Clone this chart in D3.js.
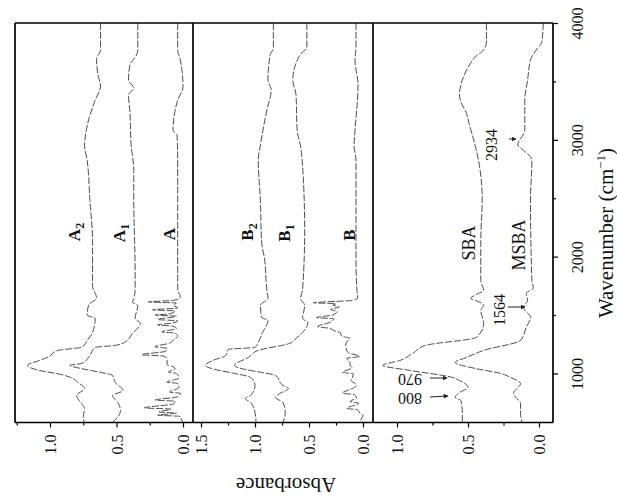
<!DOCTYPE html>
<html lang="en">
<head>
<meta charset="UTF-8">
<title>IR spectra</title>
<script src="https://d3js.org/d3.v7.min.js"></script>
<style>
    *{margin:0;padding:0}
    body{background:#fff}
    svg text{font-family:"Liberation Serif","DejaVu Serif",serif;fill:#111}
    .spec{fill:none;stroke:#444;stroke-width:0.95;stroke-dasharray:7 1.8}
    .frame{stroke:#000;stroke-width:1.7}
    .axis path{display:none}
    .axis line{stroke:#000;stroke-width:1.2}
    .ann{stroke:#222;stroke-width:1}
</style>
</head>
<body>
<div id="chart"></div>
<script>
    // spectra: [wavenumber, absorbance]
    var specA2 = [[4000,0.62],[3770,0.62],[3690,0.65],[3560,0.64],[3460,0.62],[3340,0.66],[3170,0.71],[2950,0.74],[2820,0.72],
        [2480,0.70],[2140,0.68],[1750,0.68],[1645,0.65],[1585,0.71],[1500,0.72],[1470,0.66],[1350,0.68],[1285,0.72],
        [1225,0.76],[1197,0.94],[1137,1.02],[1111,1.08],[1069,1.17],[1026,1.08],[992,0.92],[957,0.83],[923,0.79],
        [871,0.74],[811,0.80],[751,0.77],[700,0.74],[623,0.75],[580,0.74]];
    var specA1 = [[4000,0.34],[3770,0.34],[3726,0.35],[3640,0.40],[3511,0.41],[3443,0.37],[3383,0.41],[3254,0.40],
        [2954,0.39],[2740,0.37],[2483,0.37],[1883,0.36],[1711,0.36],[1643,0.37],[1609,0.38],[1583,0.34],[1470,0.36],
        [1429,0.32],[1343,0.38],[1266,0.44],[1240,0.51],[1223,0.66],[1137,0.71],[1086,0.76],[1069,0.85],[1043,0.77],
        [1009,0.62],[983,0.53],[923,0.51],[854,0.45],[811,0.53],[751,0.49],[683,0.47],[614,0.50],[580,0.53]];
    var specA = [[4000,0.04],[3770,0.04],[3683,0.02],[3451,0.0],[3340,0.04],[3083,0.075],[3040,0.045],[2826,0.04],
        [1711,0.04],[1660,0.02],[1640,0.03],[1625,0.08],[1612,0.26],[1603,0.05],[1585,0.07],[1560,0.04],[1545,0.23],
        [1535,0.06],[1510,0.10],[1500,0.21],[1490,0.05],[1462,0.19],[1450,0.04],[1430,0.09],[1415,0.19],[1405,0.08],
        [1385,0.05],[1355,0.16],[1345,0.06],[1320,0.04],[1290,0.07],[1260,0.10],[1228,0.21],[1215,0.12],[1190,0.13],
        [1160,0.31],[1148,0.14],[1120,0.12],[1075,0.12],[1060,0.08],[1040,0.06],[1012,0.11],[1000,0.05],[960,0.03],
        [925,0.12],[915,0.04],[880,0.03],[840,0.10],[830,0.02],[800,0.04],[772,0.21],[762,0.06],[740,0.07],[705,0.29],
        [695,0.09],[670,0.18],[660,0.05],[643,0.19],[632,0.02],[600,0.01],[580,0.0]];

    var specB2 = [[4000,0.83],[3786,0.83],[3726,0.86],[3511,0.88],[3426,0.85],[3254,0.89],[2954,0.95],[2826,0.97],
        [2483,0.95],[2140,0.94],[1969,0.91],[1711,0.89],[1643,0.88],[1583,0.95],[1480,0.94],[1454,0.88],[1350,0.93],
        [1266,0.97],[1223,1.00],[1206,1.25],[1154,1.27],[1111,1.39],[1069,1.46],[1034,1.37],[1000,1.19],[966,1.04],
        [897,1.00],[811,1.04],[786,1.09],[751,1.04],[666,1.00],[580,0.99]];
    var specB1 = [[4000,0.52],[3786,0.52],[3751,0.56],[3700,0.60],[3511,0.65],[3383,0.62],[3083,0.61],[2954,0.58],
        [2783,0.56],[2226,0.54],[1711,0.56],[1643,0.58],[1583,0.54],[1470,0.56],[1437,0.51],[1350,0.56],[1300,0.62],
        [1257,0.68],[1197,0.97],[1137,1.06],[1069,1.19],[1034,1.09],[1009,0.94],[983,0.81],[897,0.74],[871,0.69],
        [828,0.77],[794,0.81],[751,0.74],[666,0.72],[580,0.74]];
    var specB = [[4000,0.065],[3786,0.065],[3683,0.074],[3468,0.046],[3083,0.074],[2954,0.083],[2826,0.065],
        [1969,0.065],[1711,0.056],[1643,0.05],[1625,0.10],[1605,0.46],[1597,0.25],[1585,0.28],[1570,0.22],[1548,0.30],
        [1530,0.24],[1500,0.28],[1478,0.43],[1468,0.27],[1440,0.30],[1400,0.42],[1388,0.32],[1360,0.25],[1351,0.21],
        [1320,0.20],[1300,0.12],[1270,0.15],[1240,0.16],[1180,0.14],[1145,0.03],[1130,0.15],[1100,0.12],[1069,0.12],
        [1050,0.10],[1009,0.19],[998,0.09],[960,0.10],[940,0.11],[900,0.06],[880,0.08],[830,0.19],[820,0.08],
        [790,0.06],[760,0.12],[745,0.04],[700,0.15],[690,0.05],[660,0.03],[640,0.0],[600,0.02],[580,0.0]];

    var specSBA = [[4000,0.37],[3837,0.37],[3769,0.39],[3709,0.45],[3640,0.49],[3511,0.54],[3383,0.56],[3297,0.54],
        [3254,0.52],[3126,0.49],[2954,0.45],[2783,0.42],[2483,0.40],[2140,0.41],[1797,0.41],[1711,0.39],[1677,0.44],
        [1643,0.48],[1617,0.43],[1583,0.39],[1540,0.41],[1429,0.39],[1309,0.44],[1240,0.80],[1171,0.89],[1111,0.98],
        [1069,1.10],[1026,0.91],[966,0.61],[940,0.56],[880,0.50],[837,0.56],[794,0.59],[769,0.55],[657,0.54],[580,0.54]];
    var specMSBA = [[4000,-0.03],[3837,-0.02],[3769,0.02],[3683,0.06],[3511,0.08],[3340,0.10],[3083,0.10],[2954,0.15],
        [2911,0.11],[2826,0.05],[2483,0.06],[1797,0.05],[1729,0.04],[1686,0.09],[1626,0.08],[1566,0.11],[1480,0.06],
        [1394,0.09],[1283,0.13],[1197,0.39],[1137,0.51],[1094,0.59],[1043,0.45],[1000,0.27],[966,0.20],[914,0.13],
        [828,0.18],[743,0.13],[657,0.13],[580,0.12]];

    var wnTicks = [1000, 2000, 3000, 4000];
    var wnMinor = [1500, 2500, 3500];
    var absTicksA = [0, 0.5, 1.0], absTicksB = [0, 0.5, 1.0, 1.5], absTicksC = [0, 0.5, 1.0];
    var absMinorA = [0.25, 0.75, 1.25], absMinorB = [0.25, 0.75, 1.25], absMinorC = [0.25, 0.75];

    var W = 617, H = 502;
    var svg = d3.select("#chart").append("svg").attr("width", W).attr("height", H);

    var plotTop = 23, plotBottom = 422.5, plotLeft = 15, plotRight = 553;
    var y = d3.scaleLinear().domain([580, 4000]).range([plotBottom, plotTop]);

    // one absorbance scale per panel (absorbance grows to the left)
    var panels = [
        {x: d3.scaleLinear().domain([0, 1]).range([183, 50]),  ticks: absTicksA, minor: absMinorA,
            series: [specA2, specA1, specA]},
        {x: d3.scaleLinear().domain([0, 1]).range([363, 255]), ticks: absTicksB, minor: absMinorB,
            series: [specB2, specB1, specB]},
        {x: d3.scaleLinear().domain([0, 1]).range([539, 397]), ticks: absTicksC, minor: absMinorC,
            series: [specSBA, specMSBA]}
    ];

    panels.forEach(function (p) {
        var line = d3.line()
            .x(function (d) { return p.x(d[1]); })
            .y(function (d) { return y(d[0]); })
            .curve(d3.curveMonotoneY);
        p.series.forEach(function (s) {
            svg.append("path").attr("class", "spec").attr("d", line(s));
        });

        svg.append("g").attr("class", "axis")
            .attr("transform", "translate(0," + plotBottom + ")")
            .call(d3.axisBottom(p.x).tickValues(p.minor).tickSize(3).tickFormat(""));
        var gMajor = svg.append("g").attr("class", "axis")
            .attr("transform", "translate(0," + plotBottom + ")")
            .call(d3.axisBottom(p.x).tickValues(p.ticks).tickSize(5).tickFormat(d3.format(".1f")));
        gMajor.selectAll("text")
            .attr("transform", "rotate(-90)")
            .attr("x", -12).attr("y", 0).attr("dy", "0.35em")
            .style("text-anchor", "end").style("font-size", "16px");
    });

    // wavenumber axis on the right
    svg.append("g").attr("class", "axis")
        .attr("transform", "translate(" + plotRight + ",0)")
        .call(d3.axisRight(y).tickValues(wnMinor).tickSize(3).tickFormat(""));
    svg.append("g").attr("class", "axis")
        .attr("transform", "translate(" + plotRight + ",0)")
        .call(d3.axisRight(y).tickValues(wnTicks).tickSize(5).tickFormat(d3.format("d")))
        .selectAll("text")
        .attr("transform", "rotate(-90)")
        .attr("x", 0).attr("y", 30).attr("dy", 0)
        .style("text-anchor", "middle").style("font-size", "16px");

    // frame
    var frame = [[plotLeft, plotTop, plotRight, plotTop], [plotLeft, plotTop, plotLeft, plotBottom],
        [plotLeft, plotBottom, plotRight, plotBottom], [plotRight, plotTop, plotRight, plotBottom],
        [193, plotTop, 193, plotBottom], [373, plotTop, 373, plotBottom]];
    svg.selectAll(".frame").data(frame).enter().append("line").attr("class", "frame")
        .attr("x1", function (d) { return d[0]; }).attr("y1", function (d) { return d[1]; })
        .attr("x2", function (d) { return d[2]; }).attr("y2", function (d) { return d[3]; });

    // axis titles
    svg.append("text").attr("x", 286).attr("y", 478)
        .attr("transform", "rotate(180,286,478)")
        .style("text-anchor", "middle").style("font-size", "21px").text("Absorbance");
    var wt = svg.append("text").attr("x", 613).attr("y", 233)
        .attr("transform", "rotate(-90,613,233)")
        .style("text-anchor", "middle").style("font-size", "21px");
    wt.append("tspan").text("Wavenumber (cm");
    wt.append("tspan").attr("dy", -8).style("font-size", "13px").text("\u22121");
    wt.append("tspan").attr("dy", 8).text(")");

    // curve labels
    function label(x, yy, main, sub, bold, size) {
        var t = svg.append("text").attr("x", x).attr("y", yy)
            .attr("transform", "rotate(-90," + x + "," + yy + ")")
            .style("text-anchor", "middle").style("font-size", size + "px")
            .style("font-weight", bold ? "bold" : "normal");
        t.append("tspan").text(main);
        if (sub) t.append("tspan").attr("dy", 4).style("font-size", "12px").text(sub);
    }
    label(80, 232, "A", "2", true, 17);
    label(125, 233, "A", "1", true, 17);
    label(175, 234, "A", "", true, 17);
    label(253, 232, "B", "2", true, 17);
    label(290, 233, "B", "1", true, 17);
    label(355, 235, "B", "", true, 17);
    label(475, 243, "SBA", "", false, 18);
    label(525, 245, "MSBA", "", false, 18);
    label(497, 145, "2934", "", false, 16);
    label(505, 310, "1564", "", false, 16);

    // peak labels written upside down
    [["970", 410, 374], ["800", 410, 393]].forEach(function (d) {
        svg.append("text").attr("x", d[1]).attr("y", d[2])
            .attr("transform", "rotate(180," + d[1] + "," + d[2] + ")")
            .style("text-anchor", "middle").style("font-size", "16px").text(d[0]);
    });

    svg.append("defs").append("marker").attr("id", "ah")
        .attr("viewBox", "0 0 10 10").attr("refX", 9).attr("refY", 5)
        .attr("markerWidth", 5).attr("markerHeight", 5).attr("orient", "auto")
        .append("path").attr("d", "M0,0L10,5L0,10z").attr("fill", "#222");
    var arrows = [[430, 378, 447, 378], [430, 397, 448, 396], [508, 307, 525, 307], [509, 139, 516, 139]];
    svg.selectAll(".ann").data(arrows).enter().append("line").attr("class", "ann")
        .attr("x1", function (d) { return d[0]; }).attr("y1", function (d) { return d[1]; })
        .attr("x2", function (d) { return d[2]; }).attr("y2", function (d) { return d[3]; })
        .attr("marker-end", "url(#ah)");
</script>
</body>
</html>
